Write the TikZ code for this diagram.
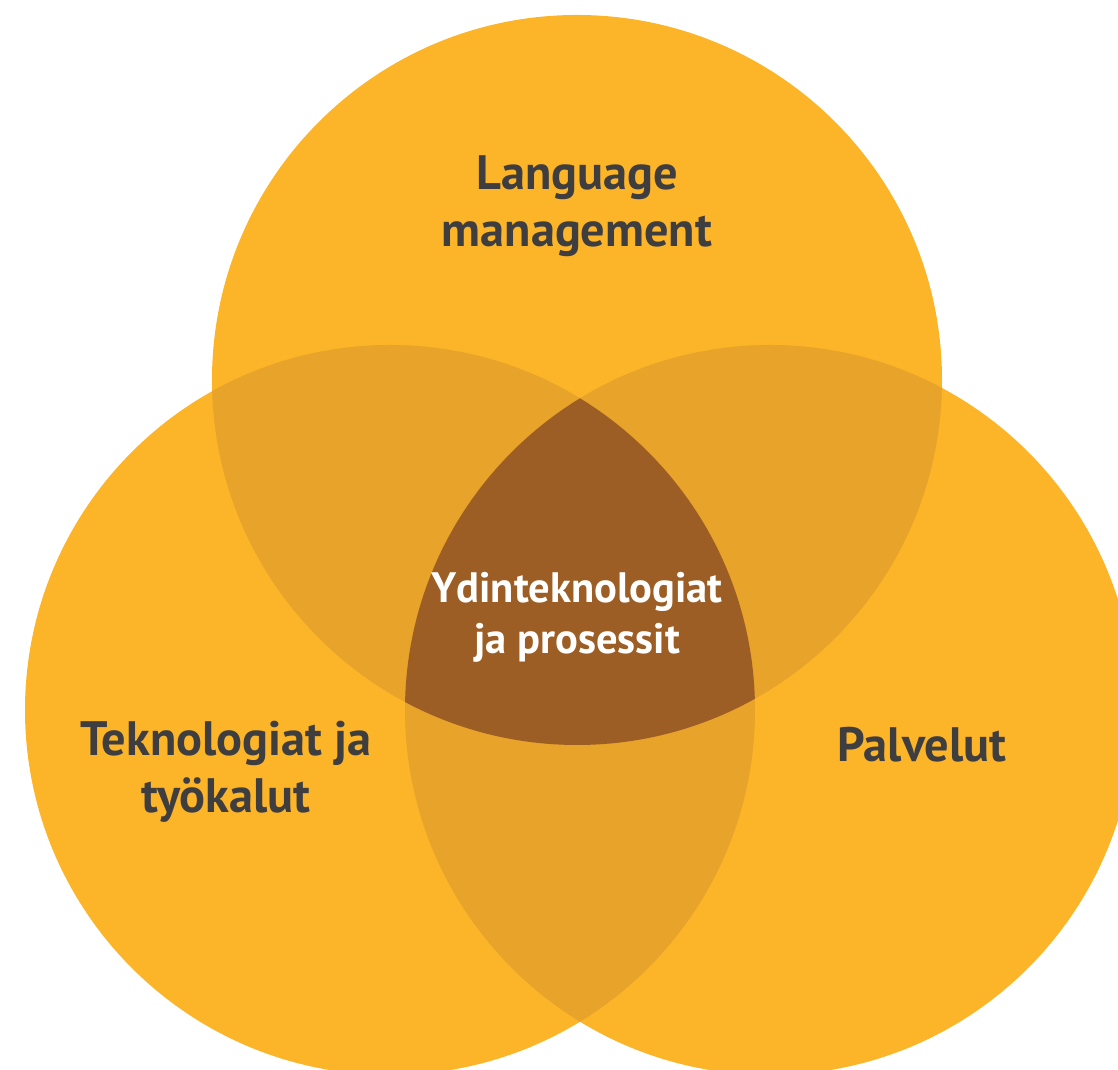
\documentclass[tikz,border=0pt]{standalone}
\usepackage{fontspec}
\setmainfont{PT Sans}
\usetikzlibrary{positioning}
\definecolor{vennbase}{RGB}{252,180,40}
\definecolor{vennpair}{RGB}{232,163,42}
\definecolor{venncore}{RGB}{156,94,36}
\definecolor{labelgrey}{RGB}{62,62,64}

\begin{document}
\begin{tikzpicture}[
  lbl/.style={font=\fontsize{27.5}{32.5}\selectfont\bfseries, text=labelgrey, align=center},
  corelbl/.style={lbl, text=white, font=\fontsize{24.2}{29}\selectfont\bfseries}
]
\useasboundingbox (0,0) rectangle (22.36,21.4);
\def\rad{7.3}

% ---- circle centres ----
\coordinate (ctop)   at (11.54,13.8);
\coordinate (cleft)  at (7.8,7.2);
\coordinate (cright) at (15.4,7.2);

% ---- the three sets ----
\fill[vennbase] (ctop) circle (\rad);
\fill[vennbase] (cleft) circle (\rad);
\fill[vennbase] (cright) circle (\rad);

% ---- pairwise overlaps ----
\begin{scope}
  \clip (ctop) circle (\rad);
  \fill[vennpair] (cleft) circle (\rad);
  \fill[vennpair] (cright) circle (\rad);
\end{scope}
\begin{scope}
  \clip (cleft) circle (\rad);
  \fill[vennpair] (cright) circle (\rad);
\end{scope}

% ---- core: all three ----
\begin{scope}
  \clip (ctop) circle (\rad);
  \clip (cleft) circle (\rad);
  \fill[venncore] (cright) circle (\rad);
\end{scope}

% ---- labels ----
\node[lbl] (langmgmt) at (11.54,17.28) {Language\\management};
\node[lbl] (tekno)    at (4.52,5.96)   {Teknologiat ja\\työkalut};
\node[lbl] (palvelut) at (18.44,6.5)   {Palvelut};
\node[corelbl] (ydin) at (11.54,9.06)  {Ydinteknologiat\\ja prosessit};

\end{tikzpicture}
\end{document}
